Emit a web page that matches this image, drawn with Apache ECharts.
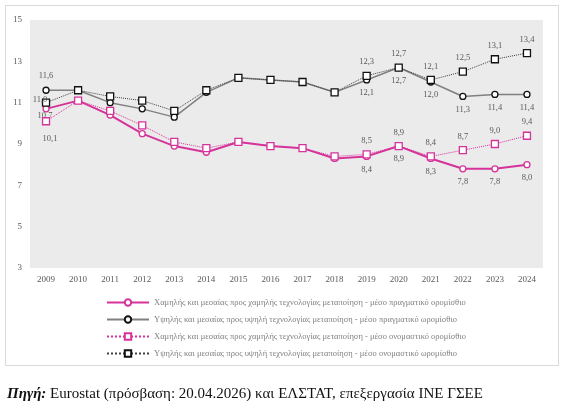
<!DOCTYPE html>
<html>
<head>
<meta charset="utf-8">
<script src="https://cdn.jsdelivr.net/npm/echarts@6/dist/echarts.min.js"></script>
<style>
  html, body { margin: 0; padding: 0; background: #fff; }
  #chart { width: 569px; height: 412px; }
</style>
</head>
<body>
<div id="chart"></div>
<script>
var years = ['2009', '2010', '2011', '2012', '2013', '2014', '2015', '2016',
  '2017', '2018', '2019', '2020', '2021', '2022', '2023', '2024'];

// χαμηλής τεχνολογίας - πραγματικό
var lowReal = [10.7, 11.1, 10.4, 9.5, 8.9, 8.6, 9.1, 8.9, 8.8, 8.3, 8.4, 8.9, 8.3, 7.8, 7.8, 8.0];
// υψηλής τεχνολογίας - πραγματικό
var highReal = [11.6, 11.6, 11.0, 10.7, 10.3, 11.5, 12.2, 12.1, 12.0, 11.5, 12.1, 12.7, 12.0, 11.3, 11.4, 11.4];
// χαμηλής τεχνολογίας - ονομαστικό
var lowNom = [10.1, 11.1, 10.6, 9.9, 9.1, 8.8, 9.1, 8.9, 8.8, 8.4, 8.5, 8.9, 8.4, 8.7, 9.0, 9.4];
// υψηλής τεχνολογίας - ονομαστικό
var highNom = [11.0, 11.6, 11.3, 11.1, 10.6, 11.6, 12.2, 12.1, 12.0, 11.5, 12.3, 12.7, 12.1, 12.5, 13.1, 13.4];

var names = [
  'Χαμηλής και μεσαίας προς χαμηλής τεχνολογίας μεταποίηση - μέσο πραγματικό ορομίσθιο',
  'Υψηλής και μεσαίας προς υψηλή τεχνολογίας μεταποίηση - μέσο πραγματικό ωρομίσθιο',
  'Χαμηλής και μεσαίας προς χαμηλής τεχνολογίας μεταποίηση - μέσο ονομαστικό ορομίσθιο',
  'Υψηλής και μεσαίας προς υψηλή τεχνολογίας μεταποίηση - μέσο ονομαστικό ωρομίσθιο'
];

// which points carry a value label
var labelled = [0, 10, 11, 12, 13, 14, 15];

var pink = '#d6339a';
var font = 'Liberation Serif';

// first point (2009) labels sit a bit off, like in the original
function withLabels(vals, pos, first) {
  return vals.map(function (v, i) {
    var show = labelled.indexOf(i) >= 0;
    var lab = { show: show, position: pos };
    if (i === 0) {
      lab.position = first.position;
      lab.offset = first.offset;
    }
    return { value: v, label: lab };
  });
}

var labelBase = {
  fontFamily: font,
  fontSize: 8.5,
  color: '#595959',
  formatter: function (p) { return p.value.toFixed(1).replace('.', ','); }
};

var chart = echarts.init(document.getElementById('chart'));

var option = {
  animation: false,
  backgroundColor: '#fff',
  graphic: [{
    type: 'rect',
    shape: { x: 5.5, y: 5.5, width: 553, height: 360 },
    style: { fill: 'none', stroke: '#d9d9d9', lineWidth: 1 },
    silent: true
  }],
  title: {
    text: '{b|Πηγή:} Eurostat (πρόσβαση: 20.04.2026) και ΕΛΣΤΑΤ, επεξεργασία ΙΝΕ ΓΣΕΕ',
    left: 2,
    top: 382,
    textStyle: {
      fontFamily: font,
      fontSize: 15,
      fontWeight: 'normal',
      color: '#111',
      rich: {
        b: { fontFamily: font, fontSize: 15, fontWeight: 'bold', fontStyle: 'italic', color: '#111' }
      }
    }
  },
  legend: {
    orient: 'vertical',
    left: 101,
    top: 293,
    itemGap: 8,
    itemWidth: 42,
    itemHeight: 8,
    textStyle: { fontFamily: font, fontSize: 8.5, color: '#7f7f7f' },
    data: names
  },
  grid: { left: 30, right: 26, top: 20, bottom: 144, backgroundColor: '#ebebeb', show: true, borderWidth: 0 },
  xAxis: {
    type: 'category',
    data: years,
    boundaryGap: true,
    axisLine: { show: false },
    axisTick: { show: false },
    axisLabel: { fontFamily: font, fontSize: 9, color: '#595959', margin: 7 }
  },
  yAxis: {
    type: 'value',
    min: 3,
    max: 15,
    interval: 2,
    splitLine: { show: false },
    axisLine: { show: false },
    axisTick: { show: false },
    axisLabel: { fontFamily: font, fontSize: 9, color: '#595959', margin: 8 }
  },
  series: [
    {
      name: names[0], type: 'line',
      data: withLabels(lowReal, 'bottom', { position: 'inside', offset: [-1, 7] }),
      symbol: 'circle', symbolSize: 6, z: 4,
      lineStyle: { color: pink, width: 2 },
      itemStyle: { color: '#fff', borderColor: pink, borderWidth: 1.3 },
      label: labelBase
    },
    {
      name: names[1], type: 'line',
      data: withLabels(highReal, 'bottom', { position: 'top', offset: [0, -1] }),
      symbol: 'circle', symbolSize: 6, z: 3,
      lineStyle: { color: '#808080', width: 1.5 },
      itemStyle: { color: '#fff', borderColor: '#111', borderWidth: 1.3 },
      label: labelBase
    },
    {
      name: names[2], type: 'line',
      data: withLabels(lowNom, 'top', { position: 'bottom', offset: [4, 4] }),
      symbol: 'rect', symbolSize: 7, z: 5,
      lineStyle: { color: pink, width: 1, type: 'dotted' },
      itemStyle: { color: '#fff', borderColor: pink, borderWidth: 1.3 },
      label: labelBase
    },
    {
      name: names[3], type: 'line',
      data: withLabels(highNom, 'top', { position: 'inside', offset: [-6, -3] }),
      symbol: 'rect', symbolSize: 7, z: 5,
      lineStyle: { color: '#404040', width: 1, type: 'dotted' },
      itemStyle: { color: '#fff', borderColor: '#111', borderWidth: 1.3 },
      label: labelBase
    }
  ]
};

chart.setOption(option);
</script>
</body>
</html>
